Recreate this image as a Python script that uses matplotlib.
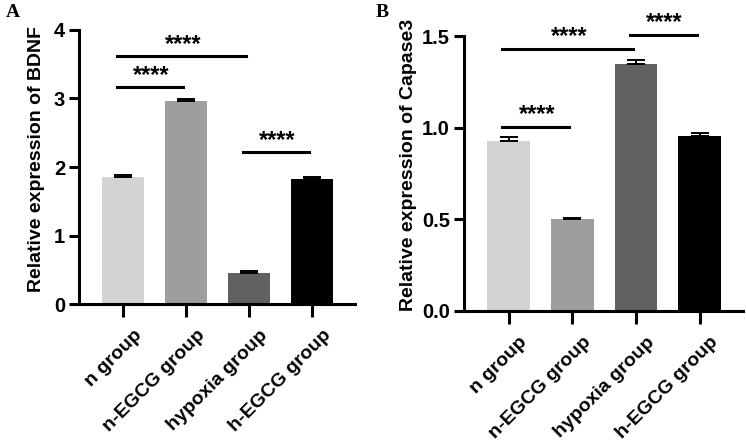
import matplotlib
matplotlib.use("Agg")
import matplotlib.pyplot as plt
import matplotlib.transforms as mtransforms
import numpy as np

categories = ["n group", "n-EGCG group", "hypoxia group", "h-EGCG group"]
colors = ["#d3d3d3", "#9e9e9e", "#616161", "#000000"]

bdnf_mean = [1.85, 2.96, 0.46, 1.83]
bdnf_err = [0.03, 0.03, 0.03, 0.03]
casp_mean = [0.929, 0.502, 1.349, 0.953]
casp_err = [0.022, 0.005, 0.019, 0.020]

# significance brackets: (start idx, end idx, height, label)
bdnf_sig = [(0, 2, 3.62, "****"), (0, 1, 3.17, "****"), (2, 3, 2.22, "****")]
casp_sig = [(0, 2, 1.428, "****"), (2, 3, 1.506, "****"), (0, 1, 1.002, "****")]

plt.rcParams['font.family'] = ['Liberation Sans', 'DejaVu Sans']
plt.rcParams['font.weight'] = 'bold'

fig = plt.figure(figsize=(7.46, 4.46), dpi=100)
axA = fig.add_axes([0.106, 0.318, 0.370, 0.615])
axB = fig.add_axes([0.622, 0.303, 0.374, 0.616])

def draw(ax, means, errs, sigs, ylim, yticks, yticklabels, ylabel, star_off, label_x, label_y):
    x = np.arange(len(categories))
    ax.bar(x, means, width=0.67, color=colors, edgecolor='none', zorder=2)
    ax.errorbar(x, means, yerr=[np.zeros(len(errs)), errs], fmt='none',
                ecolor='black', elinewidth=1.4, capsize=6.5, capthick=1.4, zorder=3)
    ax.set_xlim(-0.7, 3.68)
    ax.set_ylim(*ylim)
    ax.set_yticks(yticks)
    ax.set_yticklabels(yticklabels, fontsize=14.5, fontweight='bold')
    ax.set_xticks(x)
    for s in ['top', 'right']:
        ax.spines[s].set_visible(False)
    for s in ['left', 'bottom']:
        ax.spines[s].set_linewidth(2.2)
    ax.tick_params(axis='both', width=2.2, length=7, direction='out', pad=3)
    ax.tick_params(axis='x', length=9, pad=6)
    ax.set_xticklabels(categories, rotation=45, ha='right', rotation_mode='anchor',
                       fontsize=14, fontweight='bold')
    offset = mtransforms.ScaledTranslation(10 / 100, -2 / 100, fig.dpi_scale_trans)
    for lab in ax.get_xticklabels():
        lab.set_transform(lab.get_transform() + offset)
    ax.set_ylabel(ylabel, fontsize=14, fontweight='bold')
    ax.yaxis.set_label_coords(label_x, label_y)
    for (i, j, h, lab) in sigs:
        ax.plot([i - 0.1, j - 0.1 + 0.05], [h, h], color='black', lw=2.2, clip_on=False)
        ax.text((i + j) / 2 - 0.05, h + star_off, lab, ha='center', va='center',
                fontsize=17, fontweight='bold', clip_on=False)

draw(axA, bdnf_mean, bdnf_err, bdnf_sig, (0, 4), [0, 1, 2, 3, 4], ["0", "1", "2", "3", "4"],
     "Relative expression of BDNF", 0.17, -0.125, 0.53)
draw(axB, casp_mean, casp_err, casp_sig, (0, 1.5), [0.0, 0.5, 1.0, 1.5], ["0.0", "0.5", "1.0", "1.5"],
     "Relative expression of Capase3", 0.07, -0.17, 0.53)

fig.text(0.008, 0.972, "A", fontsize=14, fontweight='bold', family='Liberation Serif', va='center')
fig.text(0.503, 0.972, "B", fontsize=14, fontweight='bold', family='Liberation Serif', va='center')

fig.savefig("out.png", dpi=100)
